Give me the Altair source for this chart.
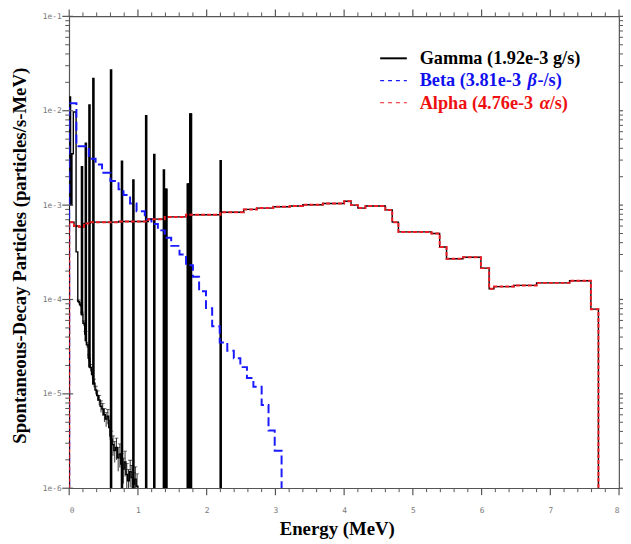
import altair as alt
import pandas as pd

# ---------------- data ----------------
gamma_edges = [0.0, 0.02, 0.04, 0.06, 0.10, 0.125, 0.15, 0.175, 0.20, 0.225, 0.25,
               0.275, 0.30, 0.325, 0.35, 0.375, 0.40, 0.425, 0.45, 0.475, 0.50,
               0.525, 0.55, 0.575, 0.60, 0.625, 0.65, 0.675, 0.70, 0.725, 0.75,
               0.775, 0.80, 0.825, 0.85, 0.875, 0.90, 0.925, 0.95, 0.975, 1.0]
gamma_vals = [1.4e-2, 1.0e-3, 3.5e-3, 9.7e-3, 3.2e-4, 9.5e-5, 8.8e-5, 7.0e-5, 5.6e-5,
              4.3e-5, 3.3e-5, 2.4e-5, 1.9e-5, 1.6e-5, 1.3e-5, 1.1e-5, 9.6e-6, 8.6e-6,
              7.4e-6, 6.9e-6, 6.0e-6, 5.4e-6, 5.8e-6, 4.4e-6, 3.3e-6, 2.9e-6, 2.5e-6,
              2.7e-6, 2.1e-6, 2.3e-6, 1.8e-6, 1.6e-6, 1.9e-6, 1.4e-6, 1.2e-6, 1.5e-6,
              1.3e-6, 1.1e-6, 1.25e-6, 1.05e-6]
gamma_rel_err = [0, 0, 0, 0, 0, 0.04, 0.05, 0.05, 0.06, 0.06, 0.07, 0.08, 0.08, 0.09,
                 0.10, 0.10, 0.12, 0.12, 0.14, 0.15, 0.16, 0.17, 0.18, 0.20, 0.22,
                 0.24, 0.25, 0.26, 0.28, 0.28, 0.30, 0.30, 0.30, 0.30, 0.32, 0.32,
                 0.34, 0.34, 0.35, 0.35]

gamma_line_e = [0.186, 0.242, 0.295, 0.352, 0.609, 0.768, 0.934, 1.120, 1.238,
                1.378, 1.400, 1.415, 1.725, 1.745, 1.762, 1.772, 2.204]
gamma_line_top = [2.6e-3, 4.6e-3, 1.17e-2, 2.24e-2, 2.75e-2, 2.97e-3, 1.88e-3, 9.0e-3,
                  3.5e-3, 2.4e-3, 1.5e-3, 1.5e-3, 1.7e-3, 1.7e-3, 9.4e-3, 9.4e-3, 3.0e-3]
gamma_line_base = [6.8e-5, 3.6e-5, 1.9e-5, 1.25e-5, 1e-6, 1e-6, 1e-6, 1e-6, 1e-6,
                   1e-6, 1e-6, 1e-6, 1e-6, 1e-6, 1e-6, 1e-6, 1e-6]

beta_edges = [0.0, 0.105, 0.285, 0.384, 0.478, 0.60, 0.718, 0.79, 0.886, 0.98, 1.10,
              1.197, 1.29, 1.39, 1.484, 1.605, 1.70, 1.80, 1.89, 1.99, 2.08, 2.19,
              2.30, 2.395, 2.49, 2.586, 2.68, 2.80, 2.90, 2.99, 3.09]
beta_vals = [1.2e-2, 4.2e-3, 3.1e-3, 2.7e-3, 2.2e-3, 1.8e-3, 1.47e-3, 1.28e-3, 1.04e-3,
             8.6e-4, 7.1e-4, 6.3e-4, 5.4e-4, 4.5e-4, 3.7e-4, 3.0e-4, 2.3e-4, 1.74e-4,
             1.22e-4, 8.1e-5, 5.2e-5, 3.5e-5, 2.86e-5, 2.39e-5, 1.92e-5, 1.47e-5,
             1.19e-5, 7.6e-6, 4.1e-6, 2.5e-6]

alpha_edges = [0.0, 0.07, 0.14, 0.215, 0.31, 0.72, 1.15, 1.39, 1.70, 2.20, 2.54, 2.73,
               2.97, 3.21, 3.40, 3.69, 4.00, 4.10, 4.20, 4.31, 4.60, 4.70, 4.79, 5.27,
               5.39, 5.49, 5.73, 5.99, 6.11, 6.18, 6.47, 6.80, 7.28, 7.59, 7.70]
alpha_vals = [6.6e-4, 6.0e-4, 5.9e-4, 6.4e-4, 6.6e-4, 6.7e-4, 7.1e-4, 7.5e-4, 7.9e-4,
              8.4e-4, 9.0e-4, 9.3e-4, 9.6e-4, 9.8e-4, 1.01e-3, 1.04e-3, 1.1e-3, 1.0e-3,
              9.3e-4, 9.8e-4, 8.9e-4, 6.6e-4, 5.2e-4, 5.0e-4, 3.6e-4, 2.7e-4, 2.8e-4,
              2.15e-4, 1.3e-4, 1.37e-4, 1.41e-4, 1.5e-4, 1.58e-4, 7.9e-5]

legend_labels = ["Gamma (1.92e-3 g/s)", "Beta (3.81e-3 ", "β", "-/s)",
                 "Alpha (4.76e-3 ", "α", "/s)"]

x_major = list(range(0, 9))
x_minor = [round(0.2 * i, 1) for i in range(41) if i % 5 != 0]
y_major = [10.0 ** d for d in range(-6, 0)]
y_minor = [k * 10.0 ** d for d in range(-6, -1) for k in range(2, 10)]

Y_MIN, Y_MAX = 1e-6, 1e-1
W, H = 557, 478


def steps(edges, vals, floor=Y_MIN):
    pts = [(edges[0], floor)]
    for i, v in enumerate(vals):
        pts.append((edges[i], v))
        pts.append((edges[i + 1], v))
    pts.append((edges[-1], floor))
    return pd.DataFrame({"E": [p[0] for p in pts], "v": [p[1] for p in pts],
                         "o": list(range(len(pts)))})


gamma_df = steps(gamma_edges, gamma_vals)
beta_df = steps(beta_edges, beta_vals)
alpha_df = steps(alpha_edges, alpha_vals)
lines_df = pd.DataFrame({"E": gamma_line_e, "v": gamma_line_top, "v2": gamma_line_base})
err_rows = []
for i, r in enumerate(gamma_rel_err):
    if r > 0:
        c = 0.5 * (gamma_edges[i] + gamma_edges[i + 1])
        err_rows.append({"E": c, "v": gamma_vals[i] * (1 - r), "v2": gamma_vals[i] * (1 + r)})
err_df = pd.DataFrame(err_rows)

# ---------------- scales & axes ----------------
xscale = alt.Scale(domain=[0, 8], nice=False, zero=False)
yscale = alt.Scale(type="log", domain=[Y_MIN, Y_MAX], nice=False)

x_axis = alt.Axis(orient="bottom", values=x_major, title="Energy (MeV)", format="d",
                  ticks=False, domain=False, labelPadding=19, titleX=271, titleY=41,
                  titleFontSize=19, titleBaseline="middle", grid=False)
y_axis = alt.Axis(orient="left", values=y_major,
                  title="Spontaneous-Decay Particles (particles/s-MeV)",
                  labelExpr="'1e' + round(log(datum.value)/LN10)",
                  ticks=False, domain=False, labelPadding=8, titleX=-50, titleY=242,
                  titleFontSize=19, titleBaseline="middle", titleAngle=270, grid=False)

# axes are attached to one layer only; all others share the scales without an axis
XA = alt.X("E:Q", scale=xscale, axis=x_axis)
YA = alt.Y("v:Q", scale=yscale, axis=y_axis)
X = alt.X("E:Q", scale=xscale, axis=None)
Y = alt.Y("v:Q", scale=yscale, axis=None)
Y2 = alt.Y("v2:Q", scale=yscale, axis=None)

gamma_line = alt.Chart(gamma_df).mark_line(color="black", strokeWidth=1.4,
                                           clip=True).encode(x=XA, y=YA, order="o:Q")
gamma_err = alt.Chart(err_df).mark_rule(color="black", strokeWidth=0.8, clip=True).encode(
    x=X, y=Y, y2="v2:Q")
gamma_err_cap = alt.Chart(err_df).mark_tick(color="black", thickness=0.8, size=4,
                                            orient="horizontal", clip=True).encode(x=X, y=Y2)
gamma_spikes = alt.Chart(lines_df).mark_rule(color="black", strokeWidth=2.6, clip=True).encode(
    x=X, y=Y, y2="v2:Q")
beta_line = alt.Chart(beta_df).mark_line(color="#1a1aff", strokeWidth=2, strokeDash=[9, 4],
                                         clip=True).encode(x=X, y=Y, order="o:Q")
alpha_under = alt.Chart(alpha_df).mark_line(color="black", strokeWidth=1.4,
                                            clip=True).encode(x=X, y=Y, order="o:Q")
alpha_line = alt.Chart(alpha_df).mark_line(color="#ee1c25", strokeWidth=2, strokeDash=[4, 2],
                                           clip=True).encode(x=X, y=Y, order="o:Q")

# ---------------- hand-drawn tick marks (positions via the scales) ----------------
TC = "#555555"


def xticks(vals, y0, y1, width=1):
    df = pd.DataFrame({"t": vals})
    return alt.Chart(df).mark_rule(color=TC, strokeWidth=width).encode(
        x=alt.X("t:Q", scale=xscale, axis=None), y=alt.value(y0), y2=alt.value(y1))


def yticks(vals, x0, x1, width=1):
    df = pd.DataFrame({"t": vals})
    return alt.Chart(df).mark_rule(color=TC, strokeWidth=width).encode(
        y=alt.Y("t:Q", scale=yscale, axis=None), x=alt.value(x0), x2=alt.value(x1))


tick_marks = [
    xticks(x_major, H, H + 7, 1.2), xticks(x_minor, H, H + 4),
    xticks(x_major, 0, -7, 1.2), xticks(x_minor, 0, -4),
    yticks(y_major, -7, 4, 1.2), yticks(y_minor, -4, 0),
    yticks(y_major, W, W + 5, 1.2), yticks(y_minor, W, W + 4),
]

# ---------------- legend ----------------
FS = 18.5
leg_df = pd.DataFrame({"a": [0]})
LX0, LX1, LT = 315, 342, 355
rows_y = [42.5, 65, 87.5]


def leg_line(color, y, width, dash=None):
    kw = dict(color=color, strokeWidth=width)
    if dash:
        kw["strokeDash"] = dash
    return alt.Chart(leg_df).mark_rule(**kw).encode(
        x=alt.value(LX0), x2=alt.value(LX1), y=alt.value(y))


def leg_text(txt, x, y, color, style="normal"):
    return alt.Chart(leg_df).mark_text(text=txt, align="left", baseline="middle",
                                       font="Liberation Serif", fontSize=FS, fontWeight="bold",
                                       fontStyle=style, color=color).encode(
        x=alt.value(x), y=alt.value(y))


wb = 5.80 * FS
wa = 6.47 * FS
leg_marks = [
    leg_line("black", rows_y[0], 2),
    leg_line("#1a1aff", rows_y[1], 1.2, [4, 4]),
    leg_line("#ee1c25", rows_y[2], 1.2, [4, 4]),
    leg_text(legend_labels[0], LT, rows_y[0], "black"),
    leg_text(legend_labels[1], LT, rows_y[1], "#1010ee"),
    leg_text(legend_labels[2], LT + wb + 2, rows_y[1], "#1010ee", "italic"),
    leg_text(legend_labels[3], LT + wb + 12, rows_y[1], "#1010ee"),
    leg_text(legend_labels[4], LT, rows_y[2], "#ee1010"),
    leg_text(legend_labels[5], LT + wa + 2, rows_y[2], "#ee1010", "italic"),
    leg_text(legend_labels[6], LT + wa + 12, rows_y[2], "#ee1010"),
]

chart = alt.layer(gamma_err, gamma_err_cap, gamma_line, gamma_spikes, beta_line,
                  alpha_under, alpha_line, *tick_marks, *leg_marks).resolve_axis(
    x="independent", y="independent"
).properties(
    width=W, height=H,
    autosize=alt.AutoSizeParams(type="none"),
    padding={"left": 62, "top": 5, "right": 4, "bottom": 52},
).configure_view(stroke="#555555", strokeWidth=1.2).configure_axis(
    labelColor="#777777", labelFont="DejaVu Sans Mono", labelFontSize=8,
    titleFont="Liberation Serif", titleFontWeight="bold", titleColor="black",
)

chart.save("out.html", embed_options={"renderer": "svg", "actions": False})
